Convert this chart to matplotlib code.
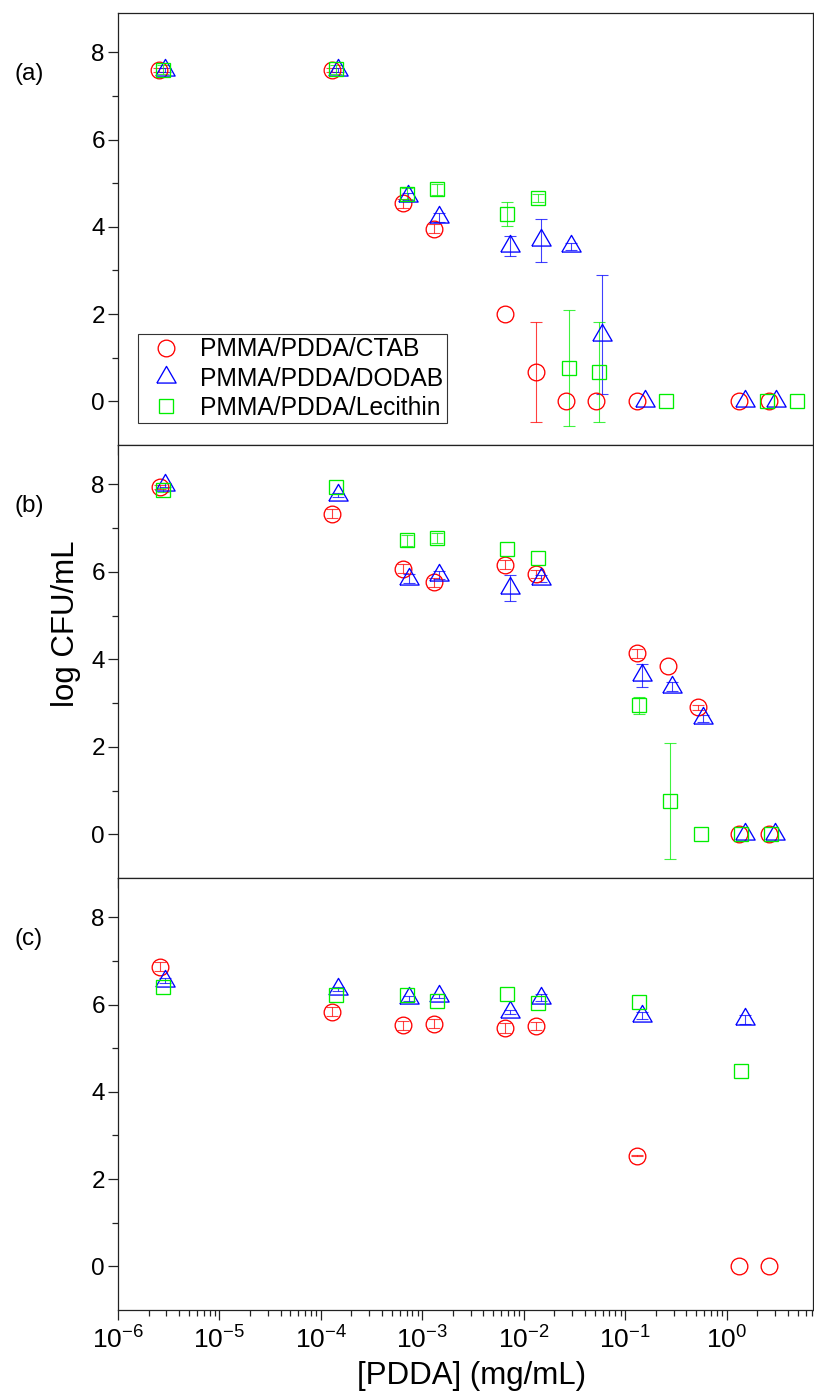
import numpy as np
import matplotlib
matplotlib.use('Agg')
import matplotlib.pyplot as plt
from matplotlib.transforms import blended_transform_factory
from matplotlib.ticker import LogLocator, FixedLocator, NullFormatter, LogFormatterSciNotation

plt.rcParams['font.family'] = ['Liberation Sans', 'DejaVu Sans']
plt.rcParams['mathtext.fontset'] = 'custom'
plt.rcParams['mathtext.rm'] = 'Liberation Sans'
plt.rcParams['mathtext.it'] = 'Liberation Sans'
plt.rcParams['mathtext.bf'] = 'Liberation Sans'
plt.rcParams['mathtext.default'] = 'regular'
plt.rcParams['axes.unicode_minus'] = False

series_names = ['PMMA/PDDA/CTAB', 'PMMA/PDDA/DODAB', 'PMMA/PDDA/Lecithin']
panel_labels = ['(a)', '(b)', '(c)']
x_major_ticks = [1e-6, 1e-5, 1e-4, 1e-3, 1e-2, 1e-1, 1e0]
y_major_ticks = [0, 2, 4, 6, 8]
y_minor_ticks = [1, 3, 5, 7]

# ---------------- panel (a) ----------------
a_ctab_x = [2.55e-6, 1.30e-4, 6.5e-4, 1.31e-3, 6.57e-3, 1.31e-2, 2.6e-2, 5.2e-2, 0.13, 1.31, 2.6]
a_ctab_y = [7.59, 7.59, 4.54, 3.96, 2.01, 0.67, 0, 0, 0, 0, 0]
a_ctab_e = [0.05, 0.05, 0.10, 0.10, 0, 1.15, 0, 0, 0, 0, 0]

a_dodab_x = [2.93e-6, 1.49e-4, 7.3e-4, 1.47e-3, 7.3e-3, 1.47e-2, 2.92e-2, 5.86e-2, 0.157, 1.51, 3.04]
a_dodab_y = [7.59, 7.59, 4.70, 4.22, 3.56, 3.69, 3.56, 1.53, 0, 0, 0]
a_dodab_e = [0.05, 0.05, 0.08, 0.10, 0.24, 0.50, 0.08, 1.36, 0, 0, 0]

a_lec_x = [2.8e-6, 1.4e-4, 7.0e-4, 1.38e-3, 6.88e-3, 1.38e-2, 2.77e-2, 5.55e-2, 0.25, 2.5, 4.97]
a_lec_y = [7.60, 7.61, 4.76, 4.86, 4.30, 4.66, 0.77, 0.67, 0, 0, 0]
a_lec_e = [0.10, 0.10, 0.12, 0.12, 0.275, 0.10, 1.33, 1.15, 0, 0, 0]

# ---------------- panel (b) ----------------
b_ctab_x = [2.6e-6, 1.3e-4, 6.5e-4, 1.31e-3, 6.57e-3, 1.31e-2, 0.13, 0.262, 0.52, 1.31, 2.6]
b_ctab_y = [7.94, 7.33, 6.07, 5.76, 6.16, 5.95, 4.14, 3.84, 2.90, 0, 0]
b_ctab_e = [0.05, 0.10, 0.10, 0.10, 0.10, 0.10, 0.10, 0, 0.05, 0, 0]

b_dodab_x = [2.93e-6, 1.49e-4, 7.4e-4, 1.47e-3, 7.3e-3, 1.47e-2, 0.146, 0.291, 0.588, 1.5, 3.0]
b_dodab_y = [7.98, 7.75, 5.84, 5.93, 5.63, 5.84, 3.63, 3.37, 2.65, 0, 0]
b_dodab_e = [0.05, 0.05, 0.10, 0.10, 0.29, 0.08, 0.27, 0.10, 0.08, 0, 0]

b_lec_x = [2.8e-6, 1.4e-4, 7.0e-4, 1.38e-3, 6.88e-3, 1.38e-2, 0.138, 0.276, 0.553, 1.39, 2.73]
b_lec_y = [7.87, 7.94, 6.72, 6.77, 6.53, 6.32, 2.95, 0.76, 0, 0, 0]
b_lec_e = [0.05, 0, 0.12, 0.12, 0, 0, 0.19, 1.33, 0, 0, 0]

# ---------------- panel (c) ----------------
c_ctab_x = [2.6e-6, 1.3e-4, 6.5e-4, 1.31e-3, 6.57e-3, 1.31e-2, 0.13, 1.31, 2.6]
c_ctab_y = [6.87, 5.84, 5.52, 5.56, 5.46, 5.51, 2.54, 0, 0]
c_ctab_e = [0.10, 0.10, 0.10, 0.10, 0.12, 0.10, 0.02, 0, 0]

c_dodab_x = [2.93e-6, 1.49e-4, 7.4e-4, 1.47e-3, 7.3e-3, 1.47e-2, 0.146, 1.5]
c_dodab_y = [6.55, 6.35, 6.14, 6.19, 5.83, 6.16, 5.74, 5.66]
c_dodab_e = [0.05, 0.05, 0.05, 0.05, 0.05, 0.08, 0.08, 0.10]

c_lec_x = [2.8e-6, 1.4e-4, 7.0e-4, 1.38e-3, 6.88e-3, 1.38e-2, 0.138, 1.4]
c_lec_y = [6.41, 6.22, 6.22, 6.08, 6.25, 6.03, 6.06, 4.47]
c_lec_e = [0, 0, 0, 0, 0, 0, 0, 0]

panels = [
    [(a_ctab_x, a_ctab_y, a_ctab_e), (a_dodab_x, a_dodab_y, a_dodab_e), (a_lec_x, a_lec_y, a_lec_e)],
    [(b_ctab_x, b_ctab_y, b_ctab_e), (b_dodab_x, b_dodab_y, b_dodab_e), (b_lec_x, b_lec_y, b_lec_e)],
    [(c_ctab_x, c_ctab_y, c_ctab_e), (c_dodab_x, c_dodab_y, c_dodab_e), (c_lec_x, c_lec_y, c_lec_e)],
]

colors = ['#ff0000', '#0000ff', '#00ee00']
# triangle with centroid at origin (like Origin)
tri = [(-1.0, -0.57735), (1.0, -0.57735), (0.0, 1.1547), (-1.0, -0.57735)]
markers = ['o', tri, 's']
msizes = [12, 16, 10.4]

W, H = 814, 1394
fig = plt.figure(figsize=(W / 100, H / 100), dpi=100)

left = 118 / W
width = (813 - 118) / W
tops = [13, 445, 878]
bots = [445, 878, 1310]

axes = []
for i in range(3):
    b = 1 - bots[i] / H
    h = (bots[i] - tops[i]) / H
    ax = fig.add_axes([left, b, width, h])
    axes.append(ax)

for i, ax in enumerate(axes):
    handles = []
    for j, (xs, ys, es) in enumerate(panels[i]):
        xs = np.array(xs); ys = np.array(ys); es = np.array(es)
        m = es > 0
        if m.any():
            ax.errorbar(xs[m], ys[m], yerr=es[m], fmt='none', ecolor=colors[j],
                        elinewidth=0.8, capsize=4, capthick=0.8, alpha=0.75, zorder=2)
        ln, = ax.plot(xs, ys, linestyle='none', marker=markers[j], markersize=msizes[j],
                      markerfacecolor='none', markeredgecolor=colors[j], markeredgewidth=0.95,
                      zorder=3, label=series_names[j])
        handles.append(ln)

    ax.set_xscale('log')
    ax.set_xlim(1e-6, 7.1)
    ax.set_ylim(-1, 8.9)
    ax.yaxis.set_major_locator(FixedLocator(y_major_ticks))
    ax.yaxis.set_minor_locator(FixedLocator(y_minor_ticks))
    ax.xaxis.set_major_locator(FixedLocator(x_major_ticks))
    ax.xaxis.set_minor_locator(LogLocator(base=10, subs=np.arange(2, 10), numticks=20))
    ax.xaxis.set_minor_formatter(NullFormatter())
    ax.tick_params(axis='both', which='both', direction='out', top=False, right=False,
                   color='#222222')
    ax.tick_params(axis='y', which='major', length=7.5, width=0.9, labelsize=17.5, pad=2)
    ax.tick_params(axis='y', which='minor', length=4, width=0.9)
    ax.tick_params(axis='x', which='major', length=7.5, width=0.9, labelsize=19, pad=4)
    ax.tick_params(axis='x', which='minor', length=4, width=0.9)
    if i < 2:
        ax.tick_params(axis='x', which='both', labelbottom=False)
    else:
        ax.xaxis.set_major_formatter(LogFormatterSciNotation())
    for s in ax.spines.values():
        s.set_linewidth(0.9)
        s.set_color('#222222')
    tr = blended_transform_factory(ax.transAxes, ax.transData)
    ax.text(-0.128, 7.5, panel_labels[i], transform=tr, ha='center', va='center', fontsize=17.5)

    if i == 0:
        leg = ax.legend(handles=handles, loc='lower left', bbox_to_anchor=(0.0288, 0.051),
                        borderaxespad=0, fontsize=17.7, frameon=True, fancybox=False,
                        edgecolor='#333333', framealpha=1, handlelength=2.0,
                        handletextpad=0.42, borderpad=0.12, labelspacing=0.22)
        leg.get_frame().set_linewidth(0.8)

fig.text(66 / W, 1 - 624 / H, 'log CFU/mL', rotation=90, ha='center', va='center', fontsize=22.5)
fig.text(472 / W, 1 - 1376 / H, '[PDDA] (mg/mL)', ha='center', va='center', fontsize=22.5)

fig.savefig('out.png', dpi=100)
